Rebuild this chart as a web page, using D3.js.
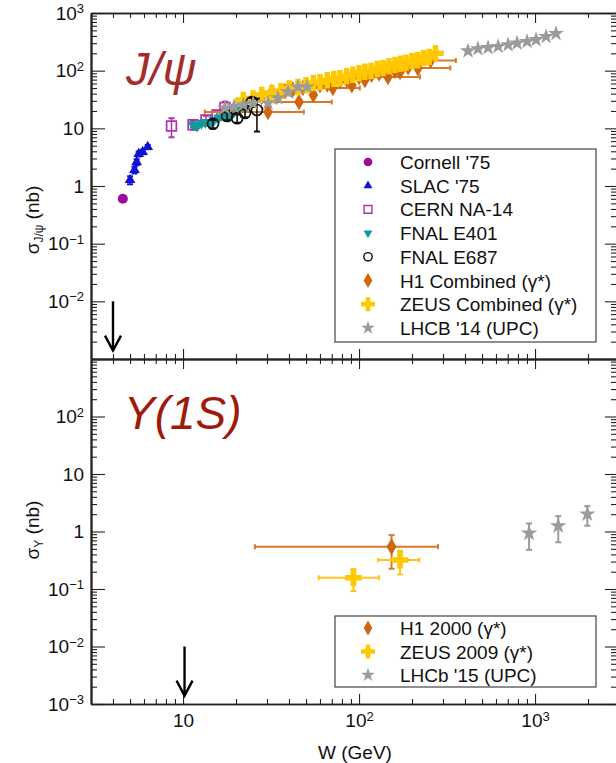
<!DOCTYPE html>
<html><head><meta charset="utf-8">
<script src="https://cdn.jsdelivr.net/npm/d3@7"></script>
<style>body{margin:0;background:#fff} text{font-family:"Liberation Sans",Arial,Helvetica,sans-serif}</style>
</head><body><svg id="c" width="616" height="763"></svg>
<script>
// ---------- data (W in GeV, sigma in nb) ----------
const cornellW=[4.55], cornellS=[0.6], cornellE=[0.07];
const slacW=[5.0,5.3,5.45,5.6,5.9,6.3], slacS=[1.27,1.9,2.6,3.6,3.9,4.75], slacE=[0.2,0.25,0.3,0.35,0.35,0.4];
const cernW=[8.6,11.4,13.5,15.6,17.3], cernS=[11,11.5,14,17,23], cernE=[4,2,2.5,3,6];
const e401W=[11.4,12.0,12.7,13.4,14.2,15.0,16.0,17.0,18.2,19.4,20.8,22.5];
const e401S=[11.5,11.0,12.2,12.8,12.0,14.0,15.2,16.8,16.2,19.0,21.0,22.5];
const e401E=[1,1,1,1.1,1,1.2,1.3,1.4,1.4,1.6,1.8,2];
const e687W=[14.8,17.8,20.3,22.5,24.6,26.3], e687S=[12,16.4,15,18.5,28.6,20.8], e687E=[2,2.5,2.5,3,5,12];
const h1W =[25,28,30.4,32,35,38,42,45.6,48,55,60,66,71,78,85,91,100,108,118,130,146,160,171,190,216,255];
const h1S =[31,35,19.2,42.6,38,44,47,28.6,50,38,56,58,50,66,70,56,78,69,85,90,78,100,95,115,111,150];
const h1Lo=[null,null,13.3,null,null,null,null,34,null,null,null,null,52,null,null,null,null,null,null,null,105,null,null,null,160,200];
const h1Hi=[null,null,48.6,null,null,null,null,70,null,null,null,null,101,null,null,null,null,null,null,null,222,null,null,null,330,355];
const zeusW=[22,25,28,32,36,40,45,50,55,60,66,72,78,85,92,100,108,117,127,137,148,160,172,185,200,215,232,250,272];
const zeusS=[31,33,38,41,44,49,52,56,61,63,68,72,74,80,85,90,96,99,107,111,120,125,132,137,147,152,165,172,200];
const lhcb14W=[17.3,19.5,22,25,30.4,34.6,39.5,45,50.6,416,474,541,617,703,791,901,1014,1156,1316];
const lhcb14S=[22.5,24,25.5,27,27.5,33.6,42.7,52,52,220,240,250,262,280,300,320,345,390,440];
// Upsilon(1S)
const h1uW=[153], h1uS=[0.545], h1uE=[0.32], h1uLo=[25.6], h1uHi=[281];
const zeusuW=[92.9,171], zeusuS=[0.157,0.319], zeusuE=[0.065,0.14], zeusuLo=[59,128], zeusuHi=[130,220];
const lhcb15W=[925,1355,1982], lhcb15S=[0.93,1.25,2.01], lhcb15E=[0.45,0.6,0.75];
// thresholds (arrows)
const arrowJpsiW=4.0, arrowUpsW=10.2, arrowFrom=1e-2, arrowTo=1.4e-3;
const legendTop=["Cornell '75","SLAC '75","CERN NA-14","FNAL E401","FNAL E687","H1 Combined (γ*)","ZEUS Combined (γ*)","LHCB '14 (UPC)"];
const legendBot=["H1 2000 (γ*)","ZEUS 2009 (γ*)","LHCb '15 (UPC)"];

// ---------- setup ----------
const svg=d3.select("#c");
const x=d3.scaleLog().domain([3,3000]).range([91,619]);
const yT=d3.scaleLog().domain([1e-3,1e3]).range([359,13]);
const yB=d3.scaleLog().domain([1e-3,1e3]).range([704,359]);
const isMaj=v=>Math.abs(Math.log10(v)-Math.round(Math.log10(v)))<1e-6;
const xt=x.ticks(20).filter(v=>v>3.01&&v<2999);
const xMaj=xt.filter(isMaj), xMin=xt.filter(v=>!isMaj(v));
const yAll=yT.ticks(60);
const yMajAll=yAll.filter(isMaj), yMin=yAll.filter(v=>!isMaj(v)&&v>1.001e-3&&v<999);
const AX="#222";

function fmtLabels(sel){
  sel.selectAll(".tick text").each(function(d){
    const t=d3.select(this); t.text(null);
    const e=Math.round(Math.log10(d));
    if(e===0) t.text("1"); else if(e===1) t.text("10");
    else { t.append("tspan").text("10"); t.append("tspan").attr("dy","-0.5em").attr("font-size","13px").text(e<0?"\u2212"+(-e):String(e)); }
  });
}
function styleAx(g){ g.selectAll("path.domain").attr("stroke",AX).attr("stroke-width",1.6);
  g.selectAll(".tick line").attr("stroke",AX).attr("stroke-width",1.1);
  g.selectAll(".tick text").attr("font-size","19px").attr("fill","#111").attr("font-family",'"Liberation Sans",Arial,sans-serif'); }

function yAxes(y,labelVals){
  const gl=svg.append("g").attr("transform","translate(91,0)")
    .call(d3.axisLeft(y).tickValues(yMajAll.filter(v=>labelVals.includes(v))).tickSize(-14).tickSizeOuter(0).tickPadding(7));
  styleAx(gl); fmtLabels(gl);
  const gl2=svg.append("g").attr("transform","translate(91,0)")
    .call(d3.axisLeft(y).tickValues(yMajAll.filter(v=>!labelVals.includes(v))).tickSize(-14).tickSizeOuter(0).tickFormat(""));
  styleAx(gl2);
  const gm=svg.append("g").attr("transform","translate(91,0)")
    .call(d3.axisLeft(y).tickValues(yMin).tickSize(-6).tickSizeOuter(0).tickFormat("")); styleAx(gm);
  const gr=svg.append("g").attr("transform","translate(619,0)")
    .call(d3.axisRight(y).tickValues(yMajAll).tickSize(-14).tickSizeOuter(0).tickFormat("")); styleAx(gr);
  const gr2=svg.append("g").attr("transform","translate(619,0)")
    .call(d3.axisRight(y).tickValues(yMin).tickSize(-8).tickSizeOuter(0).tickFormat("")); styleAx(gr2);
}
yAxes(yT,[1e3,1e2,10,1,1e-1,1e-2]);
yAxes(yB,[1e2,10,1,1e-1,1e-2,1e-3]);

// x axes
function xAx(yPos,gen,size,vals,labels){
  const a=gen(x).tickValues(vals).tickSize(size).tickSizeOuter(0);
  if(!labels) a.tickFormat("");
  const g=svg.append("g").attr("transform",`translate(0,${yPos})`).call(a.tickPadding(10));
  styleAx(g); if(labels) fmtLabels(g); return g;
}
xAx(13,d3.axisTop,-10,xMaj,false); xAx(13,d3.axisTop,-5,xMin,false);
xAx(359,d3.axisBottom,-10,xMaj,false); xAx(359,d3.axisBottom,-5,xMin,false);
xAx(359,d3.axisTop,-10,xMaj,false); xAx(359,d3.axisTop,-5,xMin,false);
xAx(704,d3.axisBottom,-10,xMaj,true); xAx(704,d3.axisBottom,-5,xMin,false);

// axis titles
svg.append("text").attr("x",355).attr("y",759).attr("text-anchor","middle").attr("font-size","19px").attr("fill","#111").text("W (GeV)");
function yTitle(cy,sub){
  const t=svg.append("text").attr("transform",`translate(39,${cy}) rotate(-90)`).attr("text-anchor","middle").attr("font-size","19px").attr("fill","#111");
  t.append("tspan").text("σ");
  t.append("tspan").attr("font-size","12px").attr("dy","0.35em").text(sub);
  t.append("tspan").attr("dy","-0.22em").text(" (nb)");
}
yTitle(220,"J/ψ"); yTitle(530,"Υ");

// panel titles
svg.append("text").attr("x",126).attr("y",85).attr("font-size","47px").attr("font-style","italic").attr("fill","#a32d2d").text("J/ψ");
svg.append("text").attr("x",124).attr("y",429).attr("font-size","46px").attr("font-style","italic").attr("fill","#a01a0c").text("Υ(1S)");

// clip
const defs=svg.append("defs");
defs.append("clipPath").attr("id","cT").append("rect").attr("x",91).attr("y",13).attr("width",528).attr("height",346);
defs.append("clipPath").attr("id","cB").append("rect").attr("x",91).attr("y",359).attr("width",528).attr("height",345);
const gT=svg.append("g").attr("clip-path","url(#cT)");
const gB=svg.append("g").attr("clip-path","url(#cB)");

const SYM={circle:d3.symbolCircle,tri:d3.symbolTriangle,square:d3.symbolSquare,diamond:d3.symbolDiamond,cross:d3.symbolCross,star:d3.symbolStar};
function series(g,y,W,S,o){
  const d=W.map((w,i)=>({w,s:S[i],e:o.E?o.E[i]:null,lo:o.Lo?o.Lo[i]:null,hi:o.Hi?o.Hi[i]:null}));
  const ec=o.ecol||o.color;
  d.forEach(p=>{
    const cx=x(p.w), cy=y(p.s);
    if(p.lo!=null){ g.append("line").attr("x1",x(p.lo)).attr("x2",x(p.hi)).attr("y1",cy).attr("y2",cy).attr("stroke",ec).attr("stroke-width",o.bw||2);
      [p.lo,p.hi].forEach(v=>g.append("line").attr("x1",x(v)).attr("x2",x(v)).attr("y1",cy-2.5).attr("y2",cy+2.5).attr("stroke",ec).attr("stroke-width",2)); }
    if(p.e!=null){ const y1=y(p.s+p.e), y2=y(Math.max(p.s-p.e,1e-4));
      g.append("line").attr("x1",cx).attr("x2",cx).attr("y1",y1).attr("y2",y2).attr("stroke",ec).attr("stroke-width",o.bw||2);
      [y1,y2].forEach(v=>g.append("line").attr("x1",cx-3).attr("x2",cx+3).attr("y1",v).attr("y2",v).attr("stroke",ec).attr("stroke-width",2)); }
  });
  g.selectAll(null).data(d).join("path")
    .attr("transform",p=>`translate(${x(p.w)},${y(p.s)})${o.rot?" rotate(180)":""}`)
    .attr("d",d3.symbol().type(SYM[o.sym]).size(o.size))
    .attr("fill",o.open?"none":o.color).attr("stroke",o.open?o.color:"none").attr("stroke-width",o.open?1.7:0);
}
const C={cornell:"#9a0c9e",slac:"#1212d6",cern:"#b22fb2",e401:"#17999b",e687:"#111",h1:"#d0650f",h1bar:"#d97a28",zeus:"#ffc800",zbar:"#ffc61a",lhcb:"#9b9b9b"};
series(gT,yT,cornellW,cornellS,{E:cornellE,sym:"circle",size:80,color:C.cornell});
series(gT,yT,slacW,slacS,{E:slacE,sym:"tri",size:50,color:C.slac,bw:1.5});
series(gT,yT,cernW,cernS,{E:cernE,sym:"square",size:95,color:C.cern,open:true,bw:1.5});
series(gT,yT,e401W,e401S,{E:e401E,sym:"tri",size:55,color:C.e401,rot:true,bw:1.5});
series(gT,yT,h1W,h1S,{E:h1S.map(v=>v*0.08),Lo:h1Lo,Hi:h1Hi,sym:"diamond",size:80,color:C.h1,ecol:C.h1bar});
series(gT,yT,zeusW,zeusS,{E:zeusS.map(v=>v*0.06),sym:"cross",size:150,color:C.zeus,ecol:C.zbar});
series(gT,yT,e687W,e687S,{E:e687E,sym:"circle",size:95,color:C.e687,open:true,bw:1.6});
series(gT,yT,lhcb14W,lhcb14S,{E:lhcb14S.map(v=>v*0.05),sym:"star",size:80,color:C.lhcb});

series(gB,yB,h1uW,h1uS,{E:h1uE,Lo:h1uLo,Hi:h1uHi,sym:"diamond",size:85,color:C.h1,ecol:C.h1bar});
series(gB,yB,zeusuW,zeusuS,{E:zeusuE,Lo:zeusuLo,Hi:zeusuHi,sym:"cross",size:160,color:C.zeus,ecol:C.zbar});
series(gB,yB,lhcb15W,lhcb15S,{E:lhcb15E,sym:"star",size:85,color:C.lhcb});

// arrows
function arrow(y,w){
  const ax=x(w), y0=y(arrowFrom), y1=y(arrowTo);
  svg.append("line").attr("x1",ax).attr("x2",ax).attr("y1",y0).attr("y2",y1).attr("stroke","#000").attr("stroke-width",2.4);
  svg.append("path").attr("d",`M${ax-8},${y1-15}L${ax},${y1}L${ax+8},${y1-15}`).attr("fill","none").attr("stroke","#000").attr("stroke-width",2.4);
}
arrow(yT,arrowJpsiW); arrow(yB,arrowUpsW);

// legends
function legend(y0,h,labels,styles,rowY){
  svg.append("rect").attr("x",335).attr("y",y0).attr("width",261).attr("height",h).attr("fill","#fff").attr("stroke","#444").attr("stroke-width",1.2);
  labels.forEach((lab,i)=>{
    const cy=rowY(i), st=styles[i];
    svg.append("path").attr("transform",`translate(368,${cy})${st.rot?" rotate(180)":""}`)
      .attr("d",d3.symbol().type(SYM[st.sym]).size(st.size))
      .attr("fill",st.open?"none":st.color).attr("stroke",st.open?st.color:"none").attr("stroke-width",st.open?1.4:0);
    svg.append("text").attr("x",400).attr("y",cy+7).attr("font-size","19px").attr("fill","#111").text(lab);
  });
}
legend(149,193,legendTop,[
  {sym:"circle",size:60,color:C.cornell},{sym:"tri",size:34,color:C.slac},{sym:"square",size:60,color:C.cern,open:true},
  {sym:"tri",size:34,color:C.e401,rot:true},{sym:"circle",size:55,color:C.e687,open:true},{sym:"diamond",size:65,color:C.h1},
  {sym:"cross",size:110,color:C.zeus},{sym:"star",size:60,color:C.lhcb}],i=>162+i*23.7);
legend(616,71,legendBot,[{sym:"diamond",size:65,color:C.h1},{sym:"cross",size:110,color:C.zeus},{sym:"star",size:60,color:C.lhcb}],i=>628+i*23.5);
</script></body></html>
